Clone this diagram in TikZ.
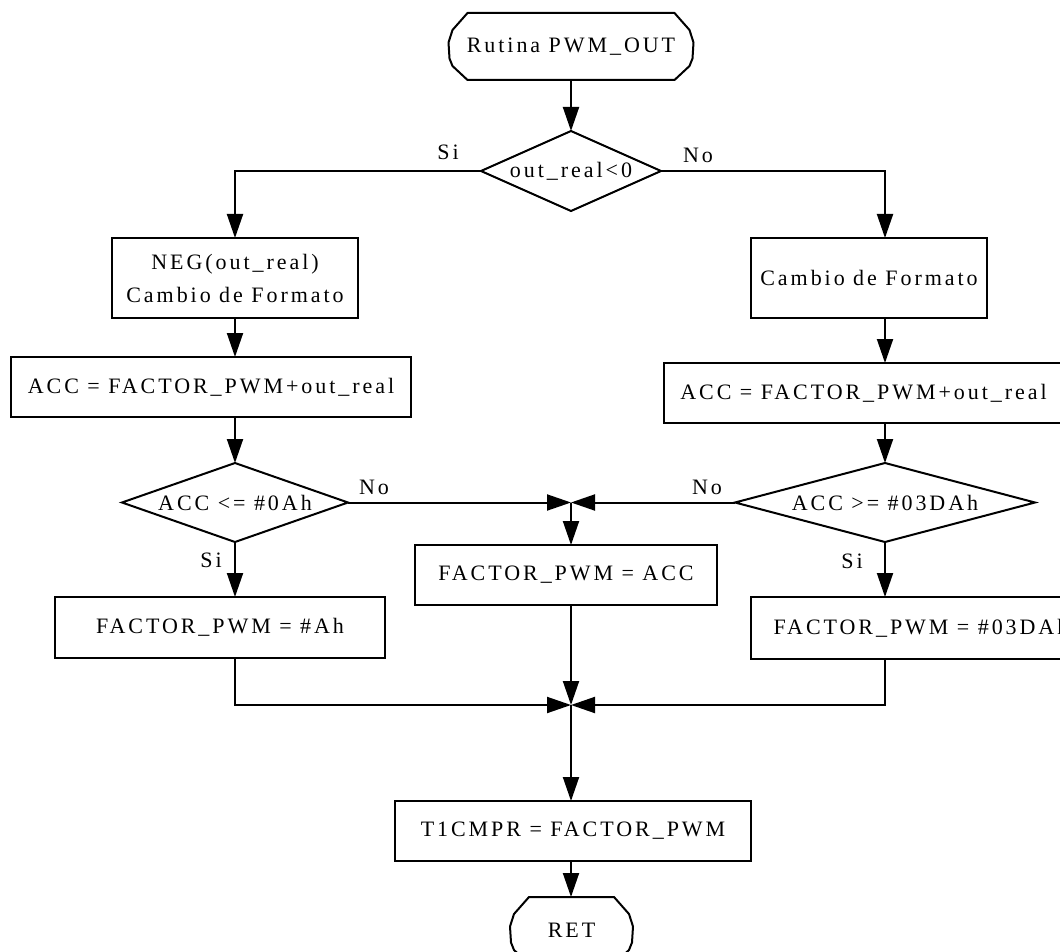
\documentclass[tikz,border=0pt]{standalone}
\usepackage{fontspec}
\setmainfont[LetterSpace=13.4]{Liberation Serif}
\usetikzlibrary{arrows.meta,shapes.geometric,calc}
\begin{document}
\begin{tikzpicture}[x=1pt,y=-1pt,
  every node/.style={font=\fontsize{22}{33}\selectfont, inner sep=0pt, outer sep=0pt},
  box/.style={draw, line width=2pt, rectangle},
  dec/.style={draw, line width=2pt, diamond},
  line/.style={line width=2pt, line join=round},
  arr/.style={line width=2pt, -{Triangle[length=24pt,width=16pt]}}]
\useasboundingbox (0,0) rectangle (1060,952);

% terminals
\node[minimum width=245, minimum height=67] (start) at (571,46.5) {Rutina PWM\_OUT};
\node[minimum width=123, minimum height=67] (ret) at (571.5,930.5) {RET};
\foreach \n in {start,ret} {
  \draw[line] ($(\n.north west)+(19,0)$) -- ($(\n.north east)+(-19,0)$)
    -- ($(\n.north east)+(-4,17)$) -- ($(\n.east)+(0,-4)$) -- ($(\n.east)+(-1,12)$)
    -- ($(\n.south east)+(-4,-14)$) -- ($(\n.south east)+(-19,0)$)
    -- ($(\n.south west)+(19,0)$) -- ($(\n.south west)+(4,-14)$)
    -- ($(\n.west)+(1,12)$) -- ($(\n.west)+(0,-4)$) -- ($(\n.north west)+(4,17)$) -- cycle;
}

% decisions
\node[dec, minimum width=180, minimum height=80, label={center:out\_real<0}] (d1) at (571,171) {};
\node[dec, minimum width=226, minimum height=79, label={center:ACC <= \#0Ah}] (d2) at (235,502.5) {};
\node[dec, minimum width=300, minimum height=79, label={center:ACC >= \#03DAh}] (d3) at (885,502.5) {};

% process boxes
\node[box, minimum width=246, minimum height=80, align=center] (b1) at (235,278) {NEG(out\_real)\\ Cambio de Formato};
\node[box, minimum width=236, minimum height=80] (b2) at (869,278) {Cambio de Formato};
\node[box, minimum width=400, minimum height=60] (a1) at (211,387) {ACC = FACTOR\_PWM+out\_real};
\node[box, minimum width=399, minimum height=60] (a2) at (863.5,393) {ACC = FACTOR\_PWM+out\_real};
\node[box, minimum width=330, minimum height=61] (c1) at (220,627.5) {FACTOR\_PWM = \#Ah};
\node[box, minimum width=302, minimum height=60] (m) at (566,575) {FACTOR\_PWM = ACC};
\node[box, minimum width=340, minimum height=62] (c3) at (921,628) {FACTOR\_PWM = \#03DAh};
\node[box, minimum width=356, minimum height=60] (t) at (573,831) {T1CMPR = FACTOR\_PWM};

% junctions
\coordinate (j1) at (571,502.5);
\coordinate (j2) at (571,705);

% branch labels
\node (si1) at (448,152) {Si};
\node (no1) at (698,155) {No};
\node (no2) at (374,487) {No};
\node (si2) at (211,560) {Si};
\node (no3) at (707,487) {No};
\node (si3) at (852,561) {Si};

% connectors
\draw[arr] (start.south) -- (d1.north);
\draw[arr] (d1.west) -| (b1.north);
\draw[arr] (d1.east) -| (b2.north -| d3.north);
\draw[arr] (b1.south) -- (a1.north -| b1.south);
\draw[arr] (b2.south -| d3.north) -- (a2.north -| d3.north);
\draw[arr] (a1.south -| b1.south) -- (d2.north);
\draw[arr] (a2.south -| d3.north) -- (d3.north);
\draw[arr] (d2.south) -- (c1.north -| d2.south);
\draw[arr] (d3.south) -- (c3.north -| d3.south);
\draw[arr] (d2.east) -- (j1);
\draw[arr] (d3.west) -- (j1);
\draw[arr] (j1) -- (m.north -| j1);
\draw[arr] (m.south -| j1) -- (j2);
\draw[arr] (c1.south -| d2.south) |- (j2);
\draw[arr] (c3.south -| d3.south) |- (j2);
\draw[arr] (j2) -- (t.north -| j2);
\draw[arr] (t.south -| j2) -- (ret.north -| j2);
\end{tikzpicture}
\end{document}
